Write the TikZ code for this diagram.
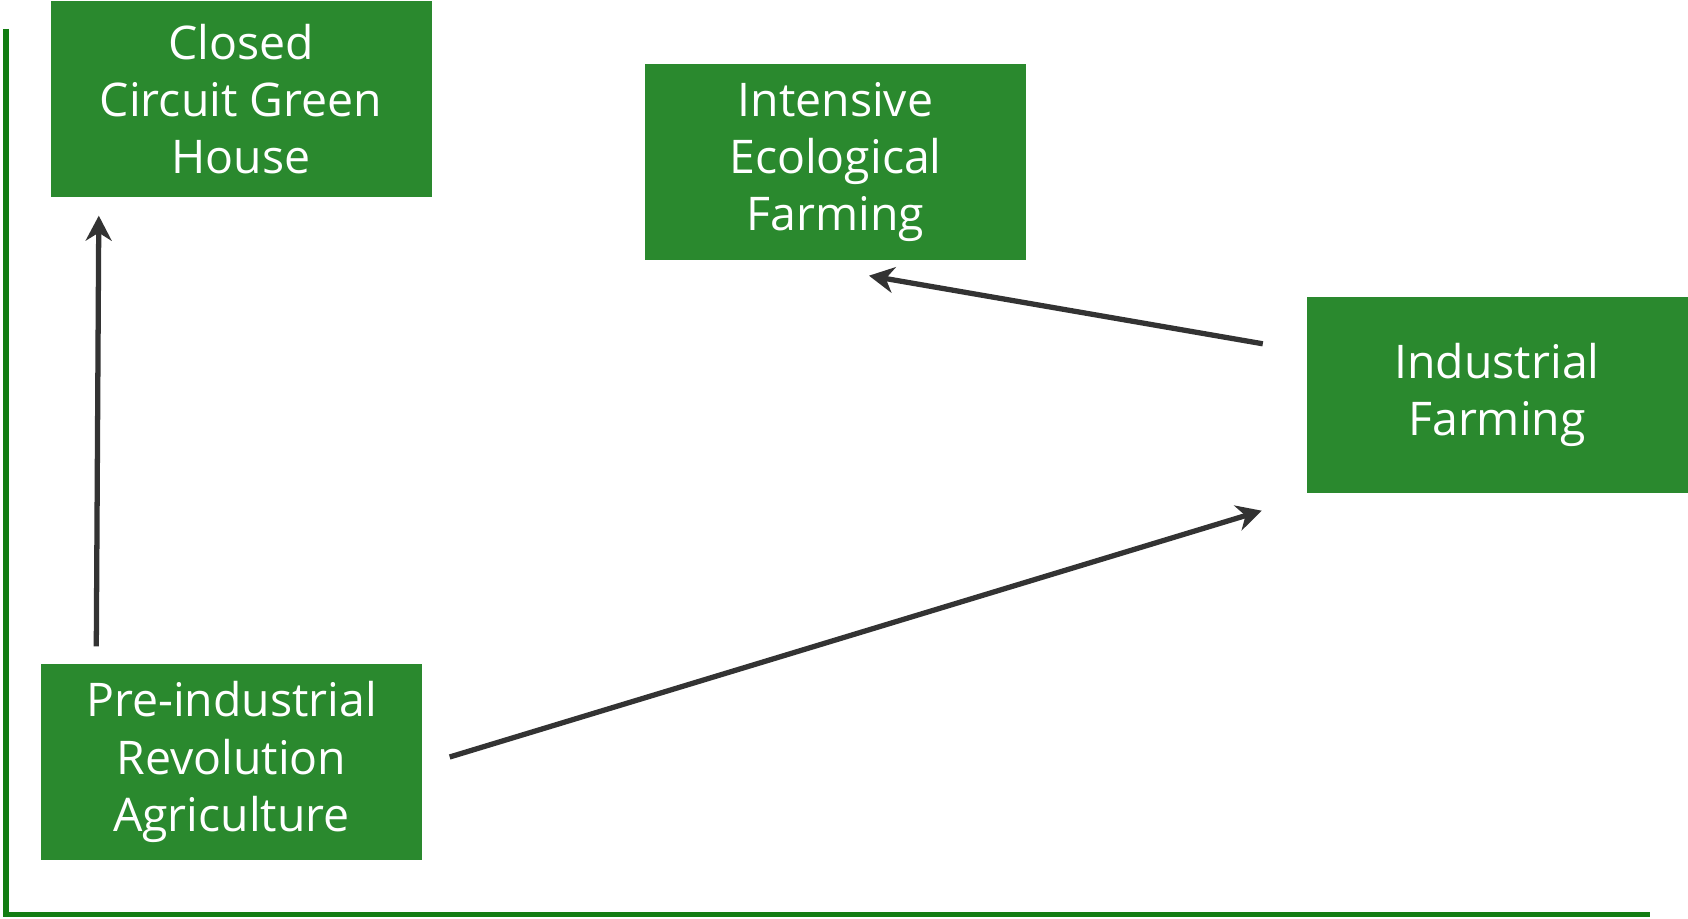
\documentclass[tikz,border=0pt]{standalone}
\usepackage{fontspec}
\setmainfont{Open Sans}
\usepackage{tikz}
\usetikzlibrary{arrows.meta}
\definecolor{boxgreen}{RGB}{42,137,46}
\definecolor{axisgreen}{RGB}{19,125,19}
\definecolor{arrowgrey}{RGB}{51,51,51}
\tikzset{
	stage/.style={rectangle, fill=boxgreen, text=white, minimum width=3.81cm, minimum height=1.96cm, align=center, inner sep=0pt, font=\fontsize{13.2}{16.3}\selectfont},
	move/.style={line width=1.5pt, color=arrowgrey, -{Stealth[length=0.25cm, width=0.26cm, inset=0.08cm]}},
	axis/.style={line width=1.45pt, color=axisgreen}
}

\begin{document}
\begin{tikzpicture}
		%%%%% START %%%%%
		
		\useasboundingbox (0, 0) rectangle (16.88, -9.19);
		
		\node[stage] (closed) at (2.41, -0.99) {Closed\\Circuit Green\\House};
		\node[stage] (intensive) at (8.355, -1.62) {Intensive\\Ecological\\Farming};
		\node[stage] (industrial) at (14.97, -3.95) {Industrial\\Farming};
		\node[stage] (preind) at (2.315, -7.62) {Pre-industrial\\Revolution\\Agriculture};
		
		\coordinate (axtop) at (0.06, -0.29);
		\coordinate (origin) at (0.06, -9.145);
		\coordinate (axend) at (16.5, -9.145);
		\draw[axis] (axtop) -- (origin) -- (axend);
		
		\draw[move] ([xshift=0.56cm, yshift=0.17cm]preind.north west) -- ([xshift=0.49cm, yshift=-0.18cm]closed.south west);
		\draw[move] ([xshift=0.27cm, yshift=0.05cm]preind.east) -- ([xshift=-0.44cm, yshift=-0.17cm]industrial.south west);
		\draw[move] ([xshift=-0.43cm, yshift=-0.475cm]industrial.north west) -- ([xshift=0.335cm, yshift=-0.15cm]intensive.south);
		
		%%%%% END %%%%%
	\end{tikzpicture}
\end{document}
